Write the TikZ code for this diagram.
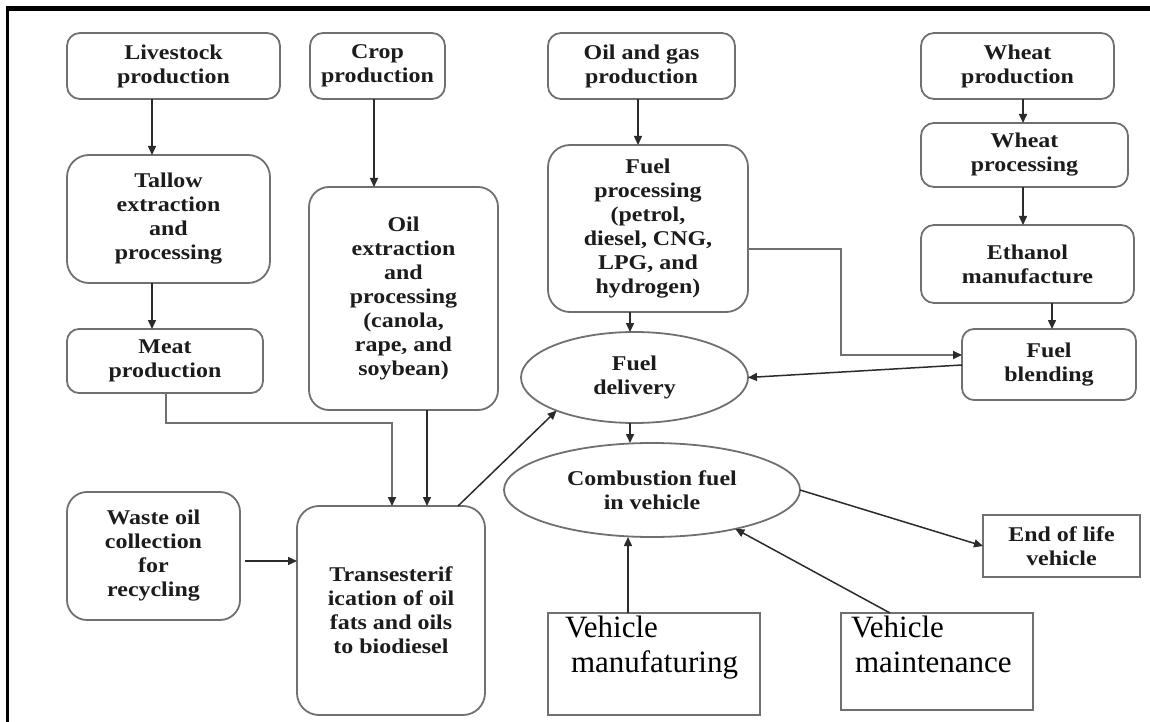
\documentclass[tikz,border=0pt]{standalone}
\usepackage{fontspec}
\setmainfont{Liberation Serif}
\newfontfamily\boxfont[FakeStretch=1.14]{Liberation Serif}
\usetikzlibrary{arrows.meta,shapes.geometric}
\definecolor{boxgray}{HTML}{707070}
\definecolor{inkdark}{HTML}{2B2B2B}
\definecolor{textdark}{HTML}{1C1C1C}
\begin{document}
\begin{tikzpicture}[x=1bp,y=-1bp,
  stage/.style={draw=boxgray, line width=1.8bp, rounded corners=#1, inner sep=0pt, outer sep=0pt,
    align=center, text=textdark, font=\boxfont\bfseries\fontsize{21bp}{24bp}\selectfont},
  stage/.default=13bp,
  plainbox/.style={draw=boxgray, line width=1.8bp, inner sep=0pt, outer sep=0pt,
    align=center, text=textdark, font=\boxfont\bfseries\fontsize{21bp}{24bp}\selectfont},
  oval/.style={ellipse, draw=boxgray, line width=1.8bp, inner sep=0pt, outer sep=0pt,
    align=center, text=textdark, font=\boxfont\bfseries\fontsize{21bp}{24bp}\selectfont},
  vtext/.style={inner sep=0pt, outer sep=0pt, align=left, anchor=north west,
    text=black, font=\fontsize{31bp}{35bp}\selectfont},
  arr/.style={draw=inkdark, line width=1.5bp, -{Triangle[length=9bp,width=8bp]}},
  link/.style={draw=boxgray, line width=2bp, -{Triangle[length=9bp,width=8bp,color=inkdark]}},
  frame/.style={draw=black}
]
\useasboundingbox (0,0) rectangle (1150,722);

% page frame (top and left rules)
\draw[frame, line width=5bp] (6,8.5) -- (1150,8.5);
\draw[frame, line width=3bp] (7.5,6) -- (7.5,722);

% top row
\node[stage, minimum width=213bp, minimum height=66bp] (live) at (173.5,66) {Livestock\\production};
\node[stage, minimum width=135bp, minimum height=66bp] (crop) at (377.5,66) {Crop\\production};
\node[stage, minimum width=187bp, minimum height=66bp] (oilgas) at (641.5,66) {Oil and gas\\production};
\node[stage, minimum width=193bp, minimum height=66bp] (wheat) at (1017.5,66) {Wheat\\production};

% processing stages
\node[stage=22bp, minimum width=203bp, minimum height=128bp] (tallow) at (168.5,219) {Tallow\\extraction\\and\\processing};
\node[stage=20bp, minimum width=189bp, minimum height=223bp] (oilext) at (403.5,298.5) {Oil\\extraction\\and\\processing\\(canola,\\rape, and\\soybean)};
\node[stage=22bp, minimum width=200bp, minimum height=167bp] (fuelproc) at (648,228.5) {Fuel\\processing\\(petrol,\\diesel, CNG,\\LPG, and\\hydrogen)};
\node[stage, minimum width=207bp, minimum height=64bp] (wheatproc) at (1024.5,155) {Wheat\\processing};
\node[stage, minimum width=213bp, minimum height=78bp] (ethanol) at (1027.5,264) {Ethanol\\manufacture};
\node[stage=12bp, minimum width=196bp, minimum height=64bp] (meat) at (165,361) {Meat\\production};
\node[stage=12bp, minimum width=174bp, minimum height=71bp] (blend) at (1049,364.5) {Fuel\\blending};

% delivery and use
\node[oval, minimum width=227bp, minimum height=91bp] (delivery) at (634.5,377.5) {Fuel\\delivery};
\node[oval, minimum width=296bp, minimum height=94bp] (combustion) at (652,490) {Combustion fuel\\in vehicle};
\node[plainbox, minimum width=157bp, minimum height=62bp] (endlife) at (1061.5,546) {End of life\\vehicle};

% biodiesel route
\node[stage=20bp, minimum width=173bp, minimum height=128bp] (waste) at (153.5,556) {Waste oil\\collection\\for\\recycling};
\node[stage=22bp, minimum width=188bp, minimum height=209bp] (trans) at (391,610.5) {Transesterif\\ication of oil\\fats and oils\\to biodiesel};

% vehicle stages
\node[plainbox, minimum width=212bp, minimum height=102bp] (manuf) at (654,664) {};
\node[vtext] (manuflabel) at (565,616) {Vehicle\\\hspace*{6bp}manufaturing};
\node[plainbox, minimum width=192bp, minimum height=97bp] (maint) at (937,661.5) {};
\node[vtext] (maintlabel) at (851,616) {Vehicle\\\hspace*{4bp}maintenance};

% connector guides
\coordinate (xlive) at (152,0);
\coordinate (xcrop) at (374,0);
\coordinate (xgas) at (638,0);
\coordinate (xwheat) at (1023,0);
\coordinate (xeth) at (1052,0);
\coordinate (xmeat) at (166,0);
\coordinate (ymeat) at (0,423);
\coordinate (xin1) at (392,0);
\coordinate (xin2) at (427,0);
\coordinate (ywaste) at (0,561);
\coordinate (xfuel) at (630,0);
\coordinate (yelb1) at (0,249);
\coordinate (xelb) at (841,0);
\coordinate (yelb2) at (0,355);
\coordinate (yblend) at (0,365);
\coordinate (xveh) at (628,0);
\coordinate (xmaint) at (890,0);
\coordinate (transout) at (458,506);

% connectors
\draw[arr] (live.south -| xlive) -- (tallow.north -| xlive);
\draw[arr] (tallow.south -| xlive) -- (meat.north -| xlive);
\draw[arr] (crop.south -| xcrop) -- (oilext.north -| xcrop);
\draw[arr] (oilgas.south -| xgas) -- (fuelproc.north -| xgas);
\draw[arr] (wheat.south -| xwheat) -- (wheatproc.north -| xwheat);
\draw[arr] (wheatproc.south -| xwheat) -- (ethanol.north -| xwheat);
\draw[arr] (ethanol.south -| xeth) -- (blend.north -| xeth);
\draw[link] (meat.south -| xmeat) -- (xmeat |- ymeat) -- (xin1 |- ymeat) -- (trans.north -| xin1);
\draw[arr] (oilext.south -| xin2) -- (trans.north -| xin2);
\draw[arr, shorten <=5bp] (waste.east |- ywaste) -- (trans.west |- ywaste);
\draw[arr] (transout) -- (delivery.203);
\draw[arr] (fuelproc.south -| xfuel) -- (delivery.north -| xfuel);
\draw[link] (fuelproc.east |- yelb1) -- (xelb |- yelb1) -- (xelb |- yelb2) -- (blend.west |- yelb2);
\draw[arr] (blend.west |- yblend) -- (delivery.east);
\draw[arr] (delivery.south -| xfuel) -- (combustion.north -| xfuel);
\draw[arr] (combustion.east) -- (endlife.west);
\draw[arr] (manuf.north -| xveh) -- (combustion.south -| xveh);
\draw[arr] (maint.north -| xmaint) -- (combustion.335);
\end{tikzpicture}
\end{document}
